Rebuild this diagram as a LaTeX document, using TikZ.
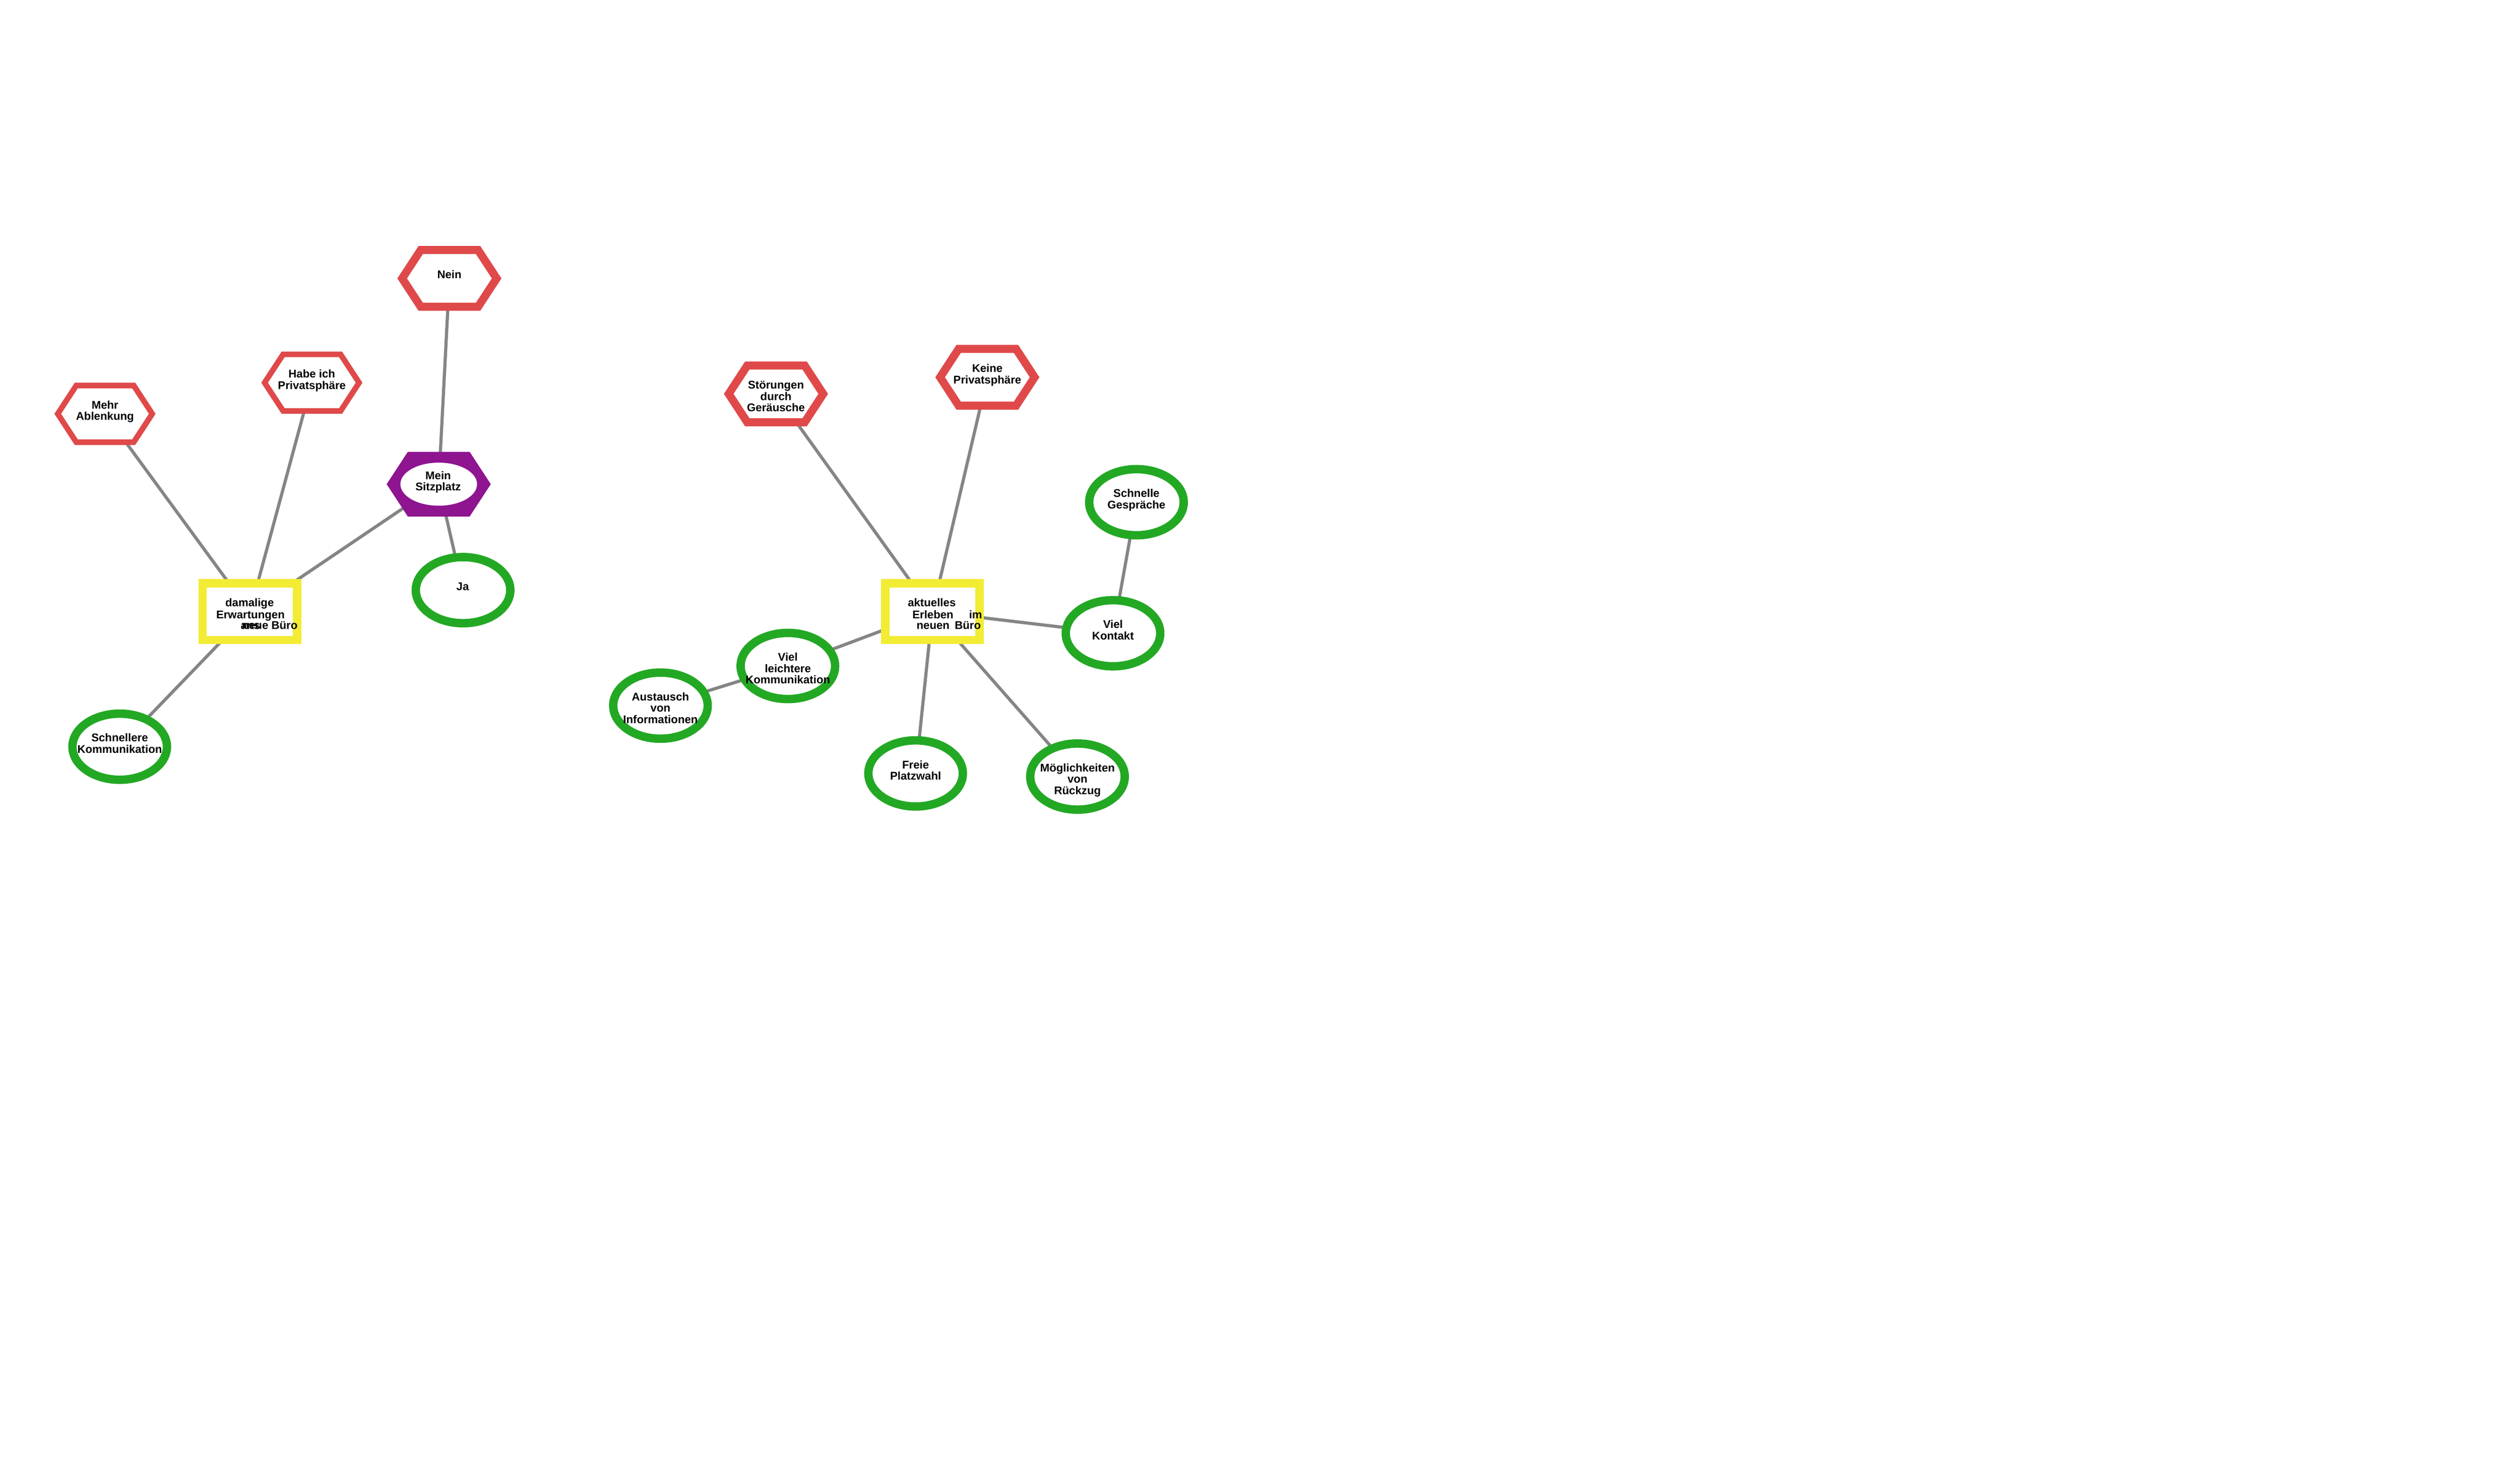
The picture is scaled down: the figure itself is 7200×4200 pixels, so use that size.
\documentclass[tikz,border=0pt]{standalone}
\usepackage{fontspec}
\setmainfont{Liberation Sans}
\usetikzlibrary{shapes.geometric}
\definecolor{hexred}{RGB}{224,73,74}
\definecolor{boxyellow}{RGB}{242,236,52}
\definecolor{ellgreen}{RGB}{35,168,36}
\definecolor{hexpurple}{RGB}{142,20,144}
\definecolor{linkgray}{RGB}{133,133,133}
\newcommand\txtlines[1]{\vtop{\lineskiplimit=-100pt\halign{\hfil##\hfil\cr#1\crcr}}}
\newcommand\drawhex[2]{\path[#1,shift={(#2)}] (-135,0) -- (-82,-81) -- (82,-81) -- (135,0) -- (82,81) -- (-82,81) -- cycle;}
\begin{document}
\begin{tikzpicture}[x=0.25pt,y=-0.25pt,
  link/.style={draw=linkgray,line width=2.25pt},
  hexthin/.style={draw=hexred,fill=white,line width=4pt,line join=miter},
  hexthick/.style={draw=hexred,fill=white,line width=5.75pt,line join=miter},
  hexfilled/.style={draw=hexpurple,fill=hexpurple,line width=5.75pt,line join=miter},
  ellnode/.style={shape=ellipse,draw=ellgreen,fill=white,line width=6pt,
    minimum width=270*0.25pt,minimum height=189*0.25pt,inner sep=0pt},
  innerell/.style={shape=ellipse,fill=white,draw=none,
    minimum width=219*0.25pt,minimum height=123*0.25pt,inner sep=0pt},
  boxnode/.style={shape=rectangle,draw=boxyellow,fill=white,line width=6pt,
    minimum width=270*0.25pt,minimum height=162*0.25pt,inner sep=0pt},
  txt/.style={anchor=base,inner sep=0pt,font=\fontsize{8pt}{8.125pt}\selectfont\bfseries},
  piece/.style={inner sep=0pt,font=\fontsize{8pt}{8.125pt}\selectfont\bfseries}]
\useasboundingbox (0,0) rectangle (7200,4200);
\fill[white] (0,0) rectangle (7200,4200);
% centres
\coordinate (mehr) at (300,1182.5);
\coordinate (habe) at (891,1093.5);
\coordinate (nein) at (1284,795.5);
\coordinate (sitz) at (1253.5,1383.5);
\coordinate (ja) at (1323,1686.3);
\coordinate (schn) at (342,2133.7);
\coordinate (dam) at (714,1748);
\coordinate (stoer) at (2217,1125.5);
\coordinate (keine) at (2821,1078);
\coordinate (gespr) at (3247,1435);
\coordinate (kont) at (3180,1809.5);
\coordinate (leicht) at (2251,1903);
\coordinate (aust) at (1887,2016.3);
\coordinate (freie) at (2616,2210);
\coordinate (moegl) at (3078.5,2219);
\coordinate (akt) at (2664,1748);
% connectors
\draw[link] (dam) -- (mehr);
\draw[link] (dam) -- (habe);
\draw[link] (dam) -- (sitz);
\draw[link] (dam) -- (schn);
\draw[link] (sitz) -- (nein);
\draw[link] (sitz) -- (ja);
\draw[link] (akt) -- (stoer);
\draw[link] (akt) -- (keine);
\draw[link] (akt) -- (kont);
\draw[link] (kont) -- (gespr);
\draw[link] (akt) -- (leicht);
\draw[link] (leicht) -- (aust);
\draw[link] (akt) -- (freie);
\draw[link] (akt) -- (moegl);
% shapes
\drawhex{hexthin}{mehr}
\drawhex{hexthin}{habe}
\drawhex{hexthick}{nein}
\drawhex{hexfilled}{sitz}
\node[innerell] (sitzin) at (sitz) {};
\node[ellnode] (jaN) at (ja) {};
\node[ellnode] (schnN) at (schn) {};
\node[boxnode] (damN) at (dam) {};
\drawhex{hexthick}{stoer}
\drawhex{hexthick}{keine}
\node[ellnode] (gesprN) at (gespr) {};
\node[ellnode] (kontN) at (kont) {};
\node[ellnode] (leichtN) at (leicht) {};
\node[ellnode] (austN) at (aust) {};
\node[ellnode] (freieN) at (freie) {};
\node[ellnode] (moeglN) at (moegl) {};
\node[boxnode] (aktN) at (akt) {};
% texts
\node[txt] (mehrT) at (300,1168) {\txtlines{Mehr\cr Ablenkung}};
\node[txt] (habeT) at (891,1079.5) {\txtlines{Habe ich\cr Privatsphäre}};
\node[txt] (neinT) at (1284,796) {\txtlines{Nein}};
\node[txt] (sitzT) at (1252,1370) {\txtlines{Mein\cr Sitzplatz}};
\node[txt] (jaT) at (1322,1686.5) {\txtlines{Ja}};
\node[txt] (schnT) at (342,2119.5) {\txtlines{Schnellere\cr Kommunikation}};
\node[piece,anchor=base west] (damT1) at (643,1733) {damalige};
\node[piece,anchor=base west] (damT2) at (617,1767) {Erwartungen};
\node[piece,anchor=base west] (damT3) at (687,1798) {ans};
\node[piece,anchor=base east] (damT4) at (851,1798) {neue Büro};
\node[txt] (stoerT) at (2217,1111) {\txtlines{Störungen\cr durch\cr Geräusche}};
\node[txt] (keineT) at (2821,1064) {\txtlines{Keine\cr Privatsphäre}};
\node[txt] (gesprT) at (3247,1421) {\txtlines{Schnelle\cr Gespräche}};
\node[txt] (kontT) at (3180,1795.5) {\txtlines{Viel\cr Kontakt}};
\node[txt] (leichtT) at (2251,1889) {\txtlines{Viel\cr leichtere\cr Kommunikation}};
\node[txt] (austT) at (1887,2002) {\txtlines{Austausch\cr von\cr Informationen}};
\node[txt] (freieT) at (2616,2196) {\txtlines{Freie\cr Platzwahl}};
\node[txt] (moeglT) at (3078.5,2205) {\txtlines{Möglichkeiten\cr von\cr Rückzug}};
\node[piece,anchor=base west] (aktT1) at (2593,1733) {aktuelles};
\node[piece,anchor=base west] (aktT2) at (2606,1767) {Erleben};
\node[piece,anchor=base west] (aktT3) at (2768,1767) {im};
\node[piece,anchor=base west] (aktT4) at (2618,1798) {neuen};
\node[piece,anchor=base west] (aktT5) at (2727,1798) {Büro};
\end{tikzpicture}
\end{document}
